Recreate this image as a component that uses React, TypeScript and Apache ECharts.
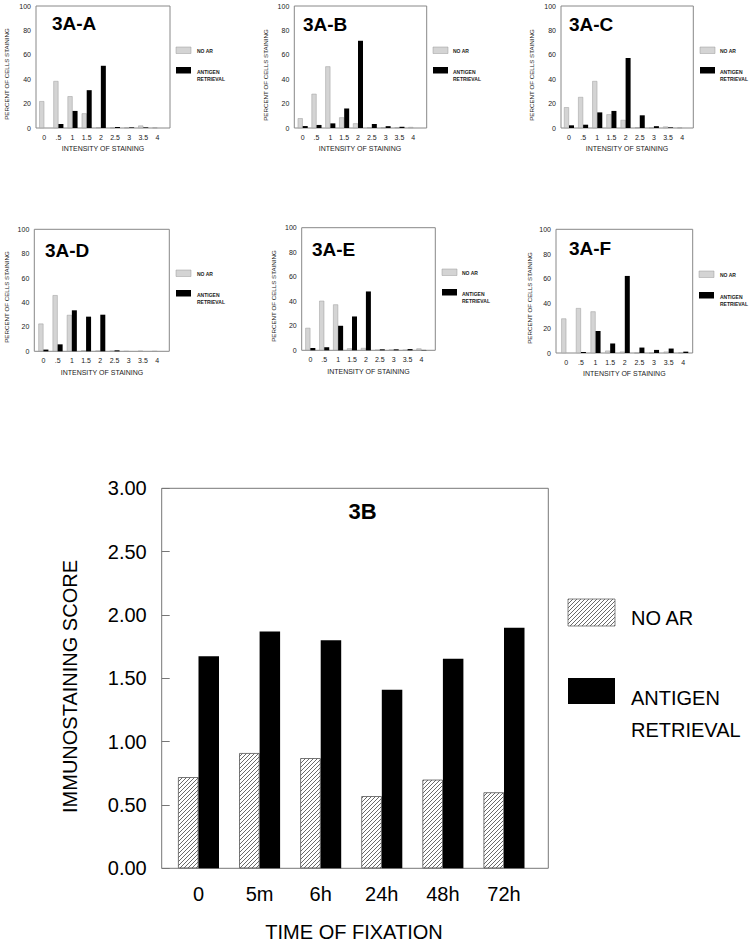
import React, { useEffect, useRef } from 'react';
import * as echarts from 'echarts';

// ---------- DATA ----------
const intensityCategories = ['0', '.5', '1', '1.5', '2', '2.5', '3', '3.5', '4'];
const panelTitles = ['3A-A', '3A-B', '3A-C', '3A-D', '3A-E', '3A-F'];
const seriesNames = ['NO AR', 'ANTIGEN RETRIEVAL'];

const noAR_A = [22, 38.5, 26, 12, 0.5, 0.3, 0.3, 2, 0.3];
const ar_A = [0, 3.3, 14, 31, 51, 0.8, 0.5, 0.5, 0];
const noAR_B = [8, 28, 50.5, 8.7, 3.8, 0.5, 0.5, 0.5, 0.8];
const ar_B = [1.6, 2.5, 3.8, 16, 71.5, 3.3, 1.5, 1, 0];
const noAR_C = [17, 25.4, 38.5, 11.2, 6.6, 0.5, 0.3, 1.2, 0.3];
const ar_C = [2.2, 2.7, 12.8, 14, 57.4, 10.4, 1.5, 0.5, 0];
const noAR_D = [22.7, 46, 29.8, 0.8, 0.5, 0.3, 0, 0.3, 0];
const ar_D = [1.4, 5.7, 33.6, 28.4, 30, 0.8, 0, 0, 0];
const noAR_E = [18.3, 40.4, 37.4, 1.6, 1.9, 0.3, 0.5, 0.3, 1.5];
const ar_E = [1.9, 2.5, 20, 27.6, 48, 0.8, 0.8, 1, 0.3];
const noAR_F = [27.9, 36.3, 33.6, 1.9, 1.1, 0, 0, 1.1, 0.3];
const ar_F = [0, 0.8, 17.8, 7.7, 62.3, 4.4, 2.5, 3.6, 1.1];

const percentMax = 100;
const percentStep = 20;

const fixationTimes = ['0', '5m', '6h', '24h', '48h', '72h'];
const noAR_3B = [0.72, 0.91, 0.87, 0.57, 0.7, 0.6];
const ar_3B = [1.675, 1.87, 1.8, 1.41, 1.655, 1.9];
const scoreMax = 3;
const scoreStep = 0.5;

const panelNoAR = [noAR_A, noAR_B, noAR_C, noAR_D, noAR_E, noAR_F];
const panelAR = [ar_A, ar_B, ar_C, ar_D, ar_E, ar_F];

// ---------- LAYOUT ----------
const FONT = '"Liberation Sans", Arial, Helvetica, sans-serif';
const SMALL = [
  { box: [36, 6, 134, 122], inner: [37.2, 127.3], title: [52, 23], yTitle: [6, 74], xTitle: [103, 148], legX: 176, legText: 197, legY: [47, 67] },
  { box: [294.3, 6, 132.4, 122], inner: [295.8, 124.4], title: [303, 24], yTitle: [265, 75], xTitle: [360, 148], legX: 433, legText: 453, legY: [47, 67] },
  { box: [561, 6, 132.3, 122], inner: [561.9, 127.4], title: [569, 24], yTitle: [531.7, 75], xTitle: [627, 148], legX: 700, legText: 720, legY: [47, 67] },
  { box: [34.3, 229.3, 135, 122], inner: [36.3, 128], title: [45, 250], yTitle: [6, 297], xTitle: [102, 372], legX: 176, legText: 197, legY: [270, 290] },
  { box: [301.7, 227.7, 133.6, 122.6], inner: [303.4, 125], title: [312, 249], yTitle: [273.3, 296], xTitle: [368.5, 371], legX: 442, legText: 462, legY: [269, 289] },
  { box: [556, 229.3, 136.7, 123.7], inner: [559, 131.6], title: [569, 248], yTitle: [529, 298], xTitle: [624.3, 373], legX: 699, legText: 720, legY: [271, 292] },
];
const BIG = { box: [161.7, 488.3, 386.6, 380], inner: [167.95, 366.6] };

function makeHatch(): HTMLCanvasElement {
  const c = document.createElement('canvas');
  c.width = 4;
  c.height = 4;
  const ctx = c.getContext('2d')!;
  ctx.fillStyle = '#ffffff';
  ctx.fillRect(0, 0, 4, 4);
  ctx.strokeStyle = '#444444';
  ctx.lineWidth = 0.8;
  ctx.beginPath();
  ctx.moveTo(0, 4);
  ctx.lineTo(4, 0);
  ctx.moveTo(-1, 1);
  ctx.lineTo(1, -1);
  ctx.moveTo(3, 5);
  ctx.lineTo(5, 3);
  ctx.stroke();
  return c;
}

function txt(text: string, x: number, y: number, size: number, opts: any = {}) {
  const align = opts.align || 'left';
  return {
    type: 'text',
    x,
    y,
    rotation: opts.rotation || 0,
    silent: true,
    style: {
      text,
      fill: opts.color || '#000',
      fontSize: size,
      fontWeight: opts.bold ? 'bold' : 'normal',
      fontFamily: FONT,
      align,
      verticalAlign: 'middle',
      textAlign: align,
      textVerticalAlign: 'middle',
    },
  };
}

export default function App() {
  const ref = useRef<HTMLDivElement>(null);

  useEffect(() => {
    if (!ref.current) return;
    const chart = echarts.init(ref.current, undefined, { renderer: 'svg' });
    const hatch = makeHatch();
    const hatchFill: any = { image: hatch, repeat: 'repeat' };

    const grid: any[] = [];
    const xAxis: any[] = [];
    const yAxis: any[] = [];
    const series: any[] = [];
    const graphic: any[] = [];

    SMALL.forEach((p, i) => {
      const [bx, by, bw, bh] = p.box;
      const og = grid.length;
      grid.push({ left: bx, top: by, width: bw, height: bh, show: true, borderColor: '#888', borderWidth: 1, backgroundColor: 'transparent' });
      grid.push({ left: p.inner[0], top: by, width: p.inner[1], height: bh, show: false });
      xAxis.push({ gridIndex: og, type: 'value', min: 0, max: 1, show: false });
      yAxis.push({
        gridIndex: og, type: 'value', min: 0, max: percentMax, interval: percentStep,
        axisLine: { show: false }, axisTick: { show: false }, splitLine: { show: false },
        axisLabel: { fontSize: 7, margin: 5, color: '#222', fontFamily: FONT },
      });
      xAxis.push({
        gridIndex: og + 1, type: 'category', data: intensityCategories,
        axisLine: { show: false }, axisTick: { show: false }, splitLine: { show: false },
        axisLabel: { fontSize: 7, margin: 6, color: '#222', interval: 0, fontFamily: FONT },
      });
      yAxis.push({ gridIndex: og + 1, type: 'value', min: 0, max: percentMax, show: false });
      series.push({
        type: 'bar', name: seriesNames[0], xAxisIndex: og + 1, yAxisIndex: og + 1,
        data: panelNoAR[i], barWidth: 5, barGap: '0%', silent: true,
        itemStyle: { color: '#d4d4d4', borderColor: '#9a9a9a', borderWidth: 0.5 },
      });
      series.push({
        type: 'bar', name: seriesNames[1], xAxisIndex: og + 1, yAxisIndex: og + 1,
        data: panelAR[i], barWidth: 5, barGap: '0%', silent: true,
        itemStyle: { color: '#000' },
      });
      graphic.push(txt(panelTitles[i], p.title[0], p.title[1], 19, { bold: true }));
      graphic.push(txt('PERCENT OF CELLS STAINING', p.yTitle[0], p.yTitle[1], 6.2, { align: 'center', rotation: Math.PI / 2, color: '#222' }));
      graphic.push(txt('INTENSITY OF STAINING', p.xTitle[0], p.xTitle[1], 7, { align: 'center', color: '#222' }));
      graphic.push({ type: 'rect', silent: true, shape: { x: p.legX, y: p.legY[0], width: 15, height: 6.5 }, style: { fill: '#d4d4d4', stroke: '#9a9a9a', lineWidth: 0.5 } });
      graphic.push({ type: 'rect', silent: true, shape: { x: p.legX, y: p.legY[1], width: 15, height: 6.5 }, style: { fill: '#000' } });
      graphic.push(txt('NO AR', p.legText, p.legY[0] + 3.5, 5, { bold: true, color: '#222' }));
      graphic.push(txt('ANTIGEN', p.legText, p.legY[1] + 5, 5, { bold: true, color: '#222' }));
      graphic.push(txt('RETRIEVAL', p.legText, p.legY[1] + 12, 5, { bold: true, color: '#222' }));
    });

    // Big chart 3B
    {
      const [bx, by, bw, bh] = BIG.box;
      const og = grid.length;
      grid.push({ left: bx, top: by, width: bw, height: bh, show: true, borderColor: '#777', borderWidth: 1, backgroundColor: 'transparent' });
      grid.push({ left: BIG.inner[0], top: by, width: BIG.inner[1], height: bh, show: false });
      xAxis.push({ gridIndex: og, type: 'value', min: 0, max: 1, show: false });
      yAxis.push({
        gridIndex: og, type: 'value', min: 0, max: scoreMax, interval: scoreStep,
        axisLine: { show: false }, splitLine: { show: false },
        axisTick: { show: true, inside: true, length: 8, lineStyle: { color: '#777', width: 1 } },
        axisLabel: { fontSize: 20, margin: 15, color: '#000', fontFamily: FONT, formatter: (v: number) => v.toFixed(2) },
      });
      xAxis.push({
        gridIndex: og + 1, type: 'category', data: fixationTimes,
        axisLine: { show: false }, axisTick: { show: false }, splitLine: { show: false },
        axisLabel: { fontSize: 20, margin: 16, color: '#000', interval: 0, fontFamily: FONT },
      });
      yAxis.push({ gridIndex: og + 1, type: 'value', min: 0, max: scoreMax, show: false });
      series.push({
        type: 'bar', name: seriesNames[0], xAxisIndex: og + 1, yAxisIndex: og + 1,
        data: noAR_3B, barWidth: 20.5, barGap: '0%', silent: true,
        itemStyle: { color: hatchFill, borderColor: '#555', borderWidth: 0.8 },
      });
      series.push({
        type: 'bar', name: seriesNames[1], xAxisIndex: og + 1, yAxisIndex: og + 1,
        data: ar_3B, barWidth: 20.5, barGap: '0%', silent: true,
        itemStyle: { color: '#000' },
      });
      graphic.push(txt('3B', 362.5, 511, 22, { bold: true, align: 'center' }));
      graphic.push(txt('IMMUNOSTAINING SCORE', 70, 686.5, 20, { align: 'center', rotation: Math.PI / 2 }));
      graphic.push(txt('TIME OF FIXATION', 354, 931.5, 20, { align: 'center' }));
      graphic.push({ type: 'rect', silent: true, shape: { x: 568, y: 599, width: 47, height: 27 }, style: { fill: hatchFill, stroke: '#666', lineWidth: 0.8 } });
      graphic.push({ type: 'rect', silent: true, shape: { x: 568, y: 678, width: 47, height: 26 }, style: { fill: '#000' } });
      graphic.push(txt('NO AR', 631, 618, 20));
      graphic.push(txt('ANTIGEN', 631, 698, 20));
      graphic.push(txt('RETRIEVAL', 631, 730, 20));
    }

    chart.setOption({
      animation: false,
      backgroundColor: '#ffffff',
      textStyle: { fontFamily: FONT },
      grid,
      xAxis,
      yAxis,
      series,
      graphic,
    });

    return () => chart.dispose();
  }, []);

  return (
    <div
      ref={ref}
      style={{ position: 'absolute', left: 0, top: 0, width: 751, height: 943, background: '#fff' }}
    />
  );
}
